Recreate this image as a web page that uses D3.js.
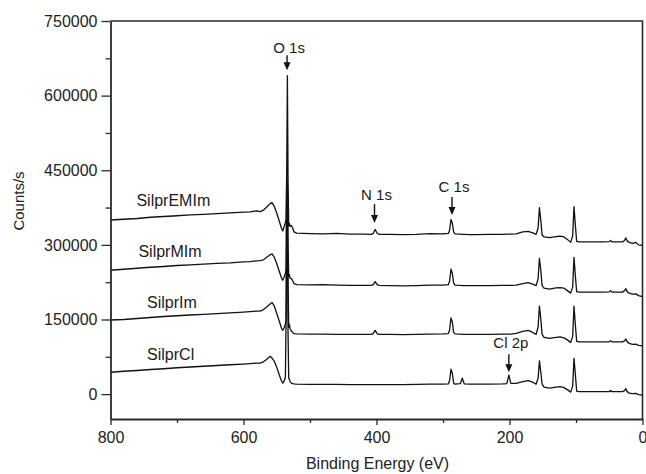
<!DOCTYPE html>
<html>
<head>
<meta charset="utf-8">
<script src="https://cdn.jsdelivr.net/npm/d3@7"></script>
<style>
  html, body { margin: 0; padding: 0; background: #fff; }
  svg { display: block; font-family: "Liberation Sans", Arial, sans-serif; }
</style>
</head>
<body>
<svg id="chart" width="646" height="474"></svg>
<script>
// Binding energy grid (eV)
const bindingEnergy = [800,780,760,740,720,700,680,660,640,620,
  600,590,580,575,570,565,560,557,554,550,
  546,543,541,539,537,536,535,534,533,532,
  531,530,528,526,524,520,500,480,460,440,
  420,408,405,402,399,396,380,360,340,320,
  300,292,290,288,286,284,282,274,271,268,
  260,250,230,210,204,201,198,190,180,172,
  165,160,157,155,153,151,148,140,130,124,
  118,112,108,105,103,101,99,95,80,60,
  50,48,46,30,27,25,23,20,15,10,
  6,0];

const silprEMIm = [350000,351500,353000,355500,357000,358500,360500,361500,363000,364500,
  366000,366500,368500,367000,370000,376000,383000,385000,378000,364000,
  347000,334000,328000,336000,345000,352000,450000,640000,430000,338000,
  343000,337000,339000,334000,326000,323500,322500,322000,323000,321500,
  321500,321000,323000,331000,323500,321000,321000,320500,321000,322500,
  322000,323000,330000,351000,344000,326000,322000,321500,321000,321000,
  320500,320500,321000,321000,321500,321500,321500,322000,326000,327000,
  324000,321000,334000,375000,350000,320000,316000,314500,316500,317500,
  316000,310000,305000,318000,377000,340000,307000,306000,306000,306000,
  306500,309000,306000,306000,309000,314000,308000,305000,303000,305000,
  300000,299000];

const silprMIm = [249000,251000,253000,255000,256500,258500,260000,261500,263000,264000,
  266000,266500,268000,268500,270000,275000,280000,282000,276000,262000,
  246000,234000,229000,235000,243000,250000,445000,420000,300000,236000,
  240000,233000,232000,228000,222000,220000,219500,220000,219000,218500,
  218500,218500,220000,226000,220000,218500,218000,217500,218000,219000,
  219000,220000,228000,251000,243000,223000,219000,218500,218000,218000,
  218000,218000,218000,218500,218500,218500,218500,219000,222000,224000,
  221000,218000,232000,273000,250000,218000,213000,211000,213500,214000,
  213000,207000,203000,215000,275000,238000,206000,205000,205000,205000,
  205500,208000,205000,205000,208000,212000,206000,203000,201000,201500,
  198000,196000];

const silprIm = [149000,150000,152000,154000,156000,157500,159000,160500,162000,163500,
  165000,166000,167000,167000,170000,175000,181000,184000,178000,162000,
  146000,133000,128000,133000,141000,148000,300000,415000,230000,134000,
  140000,132000,127000,124000,121500,121000,120500,120500,120000,120000,
  120000,120000,121500,128000,121500,120000,120000,119500,120000,120500,
  121000,121500,130000,153000,145000,124000,121000,120500,120000,120000,
  120000,120000,120000,120500,120500,120500,120500,122000,126000,128000,
  124000,120000,135000,177000,152000,120000,114000,112000,114000,115000,
  113000,108000,104000,116000,177000,140000,106000,105000,105000,105000,
  105000,107500,105000,105000,107000,111000,105000,102000,100000,100500,
  98000,97000];

const silprCl = [44000,46000,47500,49500,51000,53000,54500,56000,57500,59000,
  60500,61500,62500,62500,65000,70000,76000,72000,67000,54000,
  38000,27000,22000,26000,34000,150000,390000,300000,120000,32000,
  30000,25000,22000,21000,20500,20000,19500,19500,19500,19000,
  19000,19000,19000,19000,19000,19000,19000,19000,19500,20000,
  20000,20500,28000,50000,42000,22000,20000,21000,32000,20500,
  20000,20000,20000,20500,21000,38000,21500,21500,25000,27000,
  24000,20000,32000,67000,45000,20000,14000,12000,14000,15000,
  13000,8000,4000,16000,72000,40000,6000,5000,5000,5000,
  5000,7000,5000,5000,7000,11000,5000,2000,1000,1500,
  -1000,-2000];

const seriesNames = ["SilprEMIm", "SilprMIm", "SilprIm", "SilprCl"];
const seriesValues = [silprEMIm, silprMIm, silprIm, silprCl];
// label anchor (energy, counts) for each series name
const seriesLabelEnergy = [761, 758, 745, 745];
const seriesLabelCounts = [378000, 275000, 173000, 68000];

// peak annotations: label, energy, text baseline counts, arrow top, arrow tip
const peakLabels = ["O 1s", "N 1s", "C 1s", "Cl 2p"];
const peakEnergy = [534.5, 403, 286.5, 201];
const peakTextCounts = [685000, 390000, 406000, 92000];
const peakArrowTop = [681000, 382000, 396000, 80000];
const peakArrowTip = [651000, 344000, 360000, 44000];

const xMajorTicks = [800, 600, 400, 200, 0];
const xMinorTicks = [700, 500, 300, 100];
const yMajorTicks = [0, 150000, 300000, 450000, 600000, 750000];
const yMinorTicks = [75000, 225000, 375000, 525000, 675000];

const xTitle = "Binding Energy (eV)";
const yTitle = "Counts/s";

const svg = d3.select("#chart");
const x = d3.scaleLinear().domain([800, 0]).range([110.5, 642.5]);
const y = d3.scaleLinear().domain([-50000, 750000]).range([419, 21]);

const axisColor = "#2a2a2a";
const fontSize = 16;

// frame (top and right)
svg.append("path")
  .attr("d", `M${x(800)},${y(750000)}H${x(0)}V${y(-50000)}`)
  .attr("fill", "none").attr("stroke", axisColor).attr("stroke-width", 1.6);

// spectra
const line = d3.line().x((d) => x(d[0])).y((d) => y(d[1]));
seriesValues.forEach((vals, i) => {
  const pts = bindingEnergy.map((e, j) => [e, vals[j]]);
  svg.append("path").datum(pts)
    .attr("d", line)
    .attr("fill", "none")
    .attr("stroke", "#111")
    .attr("stroke-width", 1.3)
    .attr("stroke-linejoin", "round");
});

// axes
function styleAxis(g) {
  g.selectAll(".domain").attr("stroke", axisColor).attr("stroke-width", 1.8);
  g.selectAll(".tick line").attr("stroke", axisColor).attr("stroke-width", 1.3);
  g.selectAll(".tick text").attr("fill", "#222").style("font-size", fontSize + "px")
    .style("font-family", '"Liberation Sans", Arial, sans-serif');
}

const xAxis = svg.append("g").attr("transform", `translate(0,${y(-50000)})`)
  .call(d3.axisBottom(x).tickValues(xMajorTicks).tickSize(6).tickSizeOuter(0)
    .tickPadding(7).tickFormat(d3.format("d")));
styleAxis(xAxis);
const xAxisMinor = svg.append("g").attr("transform", `translate(0,${y(-50000)})`)
  .call(d3.axisBottom(x).tickValues(xMinorTicks).tickSize(4).tickSizeOuter(0).tickFormat(""));
styleAxis(xAxisMinor);
xAxisMinor.select(".domain").remove();

const yAxis = svg.append("g").attr("transform", `translate(${x(800)},0)`)
  .call(d3.axisLeft(y).tickValues(yMajorTicks).tickSize(9).tickSizeOuter(0)
    .tickPadding(4).tickFormat(d3.format("d")));
styleAxis(yAxis);
const yAxisMinor = svg.append("g").attr("transform", `translate(${x(800)},0)`)
  .call(d3.axisLeft(y).tickValues(yMinorTicks).tickSize(5).tickSizeOuter(0).tickFormat(""));
styleAxis(yAxisMinor);
yAxisMinor.select(".domain").remove();

// axis titles
svg.append("text")
  .attr("x", (x(800) + x(0)) / 2 + 1).attr("y", 469)
  .attr("text-anchor", "middle").attr("fill", "#222")
  .style("font-size", "16px").text(xTitle);
svg.append("text")
  .attr("transform", "translate(24,201) rotate(-90)")
  .attr("text-anchor", "middle").attr("fill", "#222")
  .style("font-size", "15px").text(yTitle);

// series labels
seriesNames.forEach((name, i) => {
  svg.append("text")
    .attr("x", x(seriesLabelEnergy[i])).attr("y", y(seriesLabelCounts[i]))
    .attr("fill", "#1a1a1a").style("font-size", "16px").text(name);
});

// peak annotations
peakLabels.forEach((lab, i) => {
  const px = x(peakEnergy[i]);
  svg.append("text")
    .attr("x", px + 2).attr("y", y(peakTextCounts[i]))
    .attr("text-anchor", "middle").attr("fill", "#1a1a1a")
    .style("font-size", "15px").text(lab);
  const top = y(peakArrowTop[i]);
  const tip = y(peakArrowTip[i]);
  svg.append("line")
    .attr("x1", px).attr("x2", px).attr("y1", top).attr("y2", tip - 4)
    .attr("stroke", "#111").attr("stroke-width", 1.4);
  svg.append("path")
    .attr("d", `M${px - 3.5},${tip - 8}L${px + 3.5},${tip - 8}L${px},${tip}Z`)
    .attr("fill", "#111");
});
</script>
</body>
</html>
